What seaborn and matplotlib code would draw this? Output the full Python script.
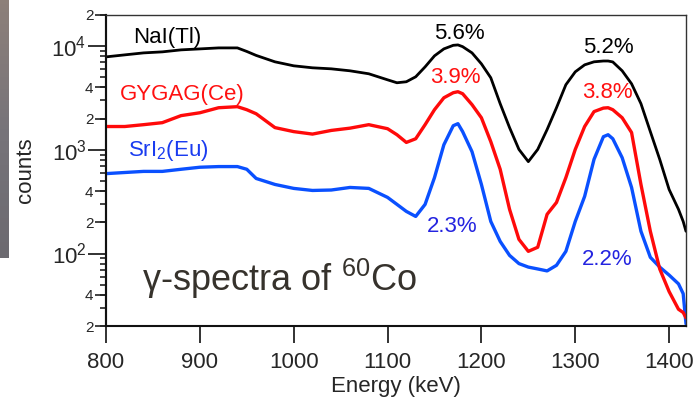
import numpy as np
import pandas as pd
import matplotlib
matplotlib.use("Agg")
import matplotlib.pyplot as plt
import seaborn as sns
from matplotlib.ticker import FixedLocator, FixedFormatter, NullLocator, LogLocator, LogFormatterSciNotation
from matplotlib.colors import LinearSegmentedColormap

# ---------------- data ----------------
energy = [800, 820, 840, 860, 880, 900, 920, 940, 950, 960, 980, 1000, 1020, 1040, 1060,
          1080, 1100, 1110, 1120, 1130, 1140, 1150, 1160, 1170, 1175, 1180, 1190, 1200,
          1210, 1220, 1230, 1240, 1250, 1260, 1270, 1280, 1290, 1300, 1310, 1320, 1330,
          1335, 1340, 1350, 1360, 1370, 1380, 1390, 1400, 1410, 1415, 1418]

nai = [7890, 8250, 8620, 8820, 9220, 9420, 9630, 9630, 8900, 8150, 7070, 6470, 6190, 6050, 5790,
       5420, 4740, 4440, 4540, 5070, 6320, 8070, 9420, 10200, 10290, 9900, 8620, 6760,
       4960, 2790, 1640, 1010, 770, 1010, 1570, 2550, 4250, 5660, 6610, 7070, 7200,
       7200, 7050, 5790, 4340, 2790, 1500, 810, 415, 267, 204, 164]

gygag = [1680, 1680, 1750, 1830, 2140, 2280, 2550, 2610, 2440, 2230, 1640, 1500, 1420, 1540, 1620,
         1750, 1600, 1400, 1180, 1280, 1750, 2440, 3180, 3560, 3640, 3480, 2730, 2040,
         1200, 650, 267, 137, 105, 115, 239, 311, 540, 1010, 1680, 2340, 2530,
         2550, 2440, 2040, 1470, 464, 164, 71, 43, 29, 27, 24]

sri2 = [590, 605, 620, 620, 650, 680, 690, 690, 650, 530, 464, 425, 406, 410, 434,
        425, 348, 298, 255, 228, 298, 540, 1120, 1710, 1790, 1500, 960, 464,
        204, 131, 96, 80, 74, 71, 68, 77, 105, 204, 356, 810, 1340,
        1400, 1280, 840, 434, 164, 92, 74, 62, 51, 41, 21]

colors = {"NaI(Tl)": "#000000", "GYGAG(Ce)": "#ff0a0a", "SrI2(Eu)": "#0a50ff"}

x_ticks = [800, 900, 1000, 1100, 1200, 1300, 1400]
minor_label_ticks = [20, 40, 200, 400, 2000, 4000, 20000]
minor_label_text = ["2", "4", "2", "4", "2", "4", "2"]

df = pd.concat([
    pd.DataFrame({"Energy": energy, "counts": nai, "crystal": "NaI(Tl)"}),
    pd.DataFrame({"Energy": energy, "counts": sri2, "crystal": "SrI2(Eu)"}),
    pd.DataFrame({"Energy": energy, "counts": gygag, "crystal": "GYGAG(Ce)"}),
], ignore_index=True)

# ---------------- style ----------------
sns.set_style("ticks")
plt.rcParams["font.family"] = ["Liberation Sans", "DejaVu Sans"]
plt.rcParams["mathtext.fontset"] = "custom"
plt.rcParams["mathtext.rm"] = "Liberation Sans"
plt.rcParams["mathtext.it"] = "Liberation Sans:italic"
plt.rcParams["mathtext.default"] = "regular"

fig = plt.figure(figsize=(6.97, 4.05), dpi=100)
ax = fig.add_axes([106 / 697, 1 - 326 / 405, 580 / 697, 311 / 405])

sns.lineplot(data=df, x="Energy", y="counts", hue="crystal", palette=colors,
             estimator=None, sort=False, legend=False, ax=ax, linewidth=2.4)
for line in ax.lines:
    if line.get_color() in ("#000000", "k"):
        line.set_linewidth(2.0)

ax.set_yscale("log")
ax.set_xlim(800, 1418)
ax.set_ylim(20, 20000)

ax.xaxis.set_major_locator(FixedLocator(x_ticks))
ax.xaxis.set_minor_locator(NullLocator())
ax.yaxis.set_major_locator(LogLocator(base=10))
ax.yaxis.set_major_formatter(LogFormatterSciNotation())
ax.yaxis.set_minor_locator(LogLocator(base=10, subs=np.arange(2, 10)))
ax.yaxis.set_minor_formatter(FixedFormatter([]))

ax.tick_params(axis="x", which="major", direction="out", length=12, width=1.3,
               labelsize=16, pad=7, color="#222222")
ax.tick_params(axis="y", which="major", direction="out", length=13, width=1.3,
               labelsize=16, pad=1, color="#222222")
ax.tick_params(axis="y", which="minor", direction="out", length=4.5, width=1.2,
               color="#222222", labelleft=False)

sec = ax.secondary_yaxis("left")
sec.yaxis.set_major_locator(FixedLocator(minor_label_ticks))
sec.yaxis.set_major_formatter(FixedFormatter(minor_label_text))
sec.yaxis.set_minor_locator(NullLocator())
sec.tick_params(axis="y", which="major", direction="out", length=8, width=1.2,
                labelsize=11, pad=1, color="#222222")
sec.spines["left"].set_linewidth(1.5)

for s in ["left", "bottom"]:
    ax.spines[s].set_linewidth(1.5)
    ax.spines[s].set_color("#111111")
for s in ["top", "right"]:
    ax.spines[s].set_visible(True)
    ax.spines[s].set_linewidth(1.0)
    ax.spines[s].set_color("#333333")

ax.set_xlabel("Energy (keV)", fontsize=16, labelpad=2)
ax.set_ylabel("")
fig.text(25 / 697, 1 - 170 / 405, "counts", rotation=90, fontsize=16,
         ha="center", va="center")

# ---------------- annotations ----------------
ax.text(829, 10760, "NaI(Tl)", color="black", fontsize=16, ha="left", va="baseline")
ax.text(815, 3050, "GYGAG(Ce)", color="#ff1010", fontsize=16, ha="left", va="baseline")
ax.text(823, 864, "SrI$_2$(Eu)", color="#1a3cf0", fontsize=16, ha="left", va="baseline")

ax.text(1177, 11760, "5.6%", color="black", fontsize=16, ha="center", va="baseline")
ax.text(1172, 4440, "3.9%", color="#ff1010", fontsize=16, ha="center", va="baseline")
ax.text(1169, 161, "2.3%", color="#2424e0", fontsize=16, ha="center", va="baseline")
ax.text(1335, 8620, "5.2%", color="black", fontsize=16, ha="center", va="baseline")
ax.text(1334, 3180, "3.8%", color="#ff1010", fontsize=16, ha="center", va="baseline")
ax.text(1334, 77, "2.2%", color="#2424e0", fontsize=16, ha="center", va="baseline")

ax.text(838, 43.4, "γ-spectra of $^{60}$Co", color="#36322c", fontsize=26,
        ha="left", va="baseline")

# grey slide strip at the far left
strip = fig.add_axes([0, 1 - 258 / 405, 9 / 697, 258 / 405])
grad = np.linspace(0, 1, 64).reshape(-1, 1)
cmap = LinearSegmentedColormap.from_list("strip", ["#8d8079", "#77747a", "#6c6a70"])
strip.imshow(grad, aspect="auto", cmap=cmap)
strip.set_axis_off()

fig.savefig("out.png", dpi=100)
